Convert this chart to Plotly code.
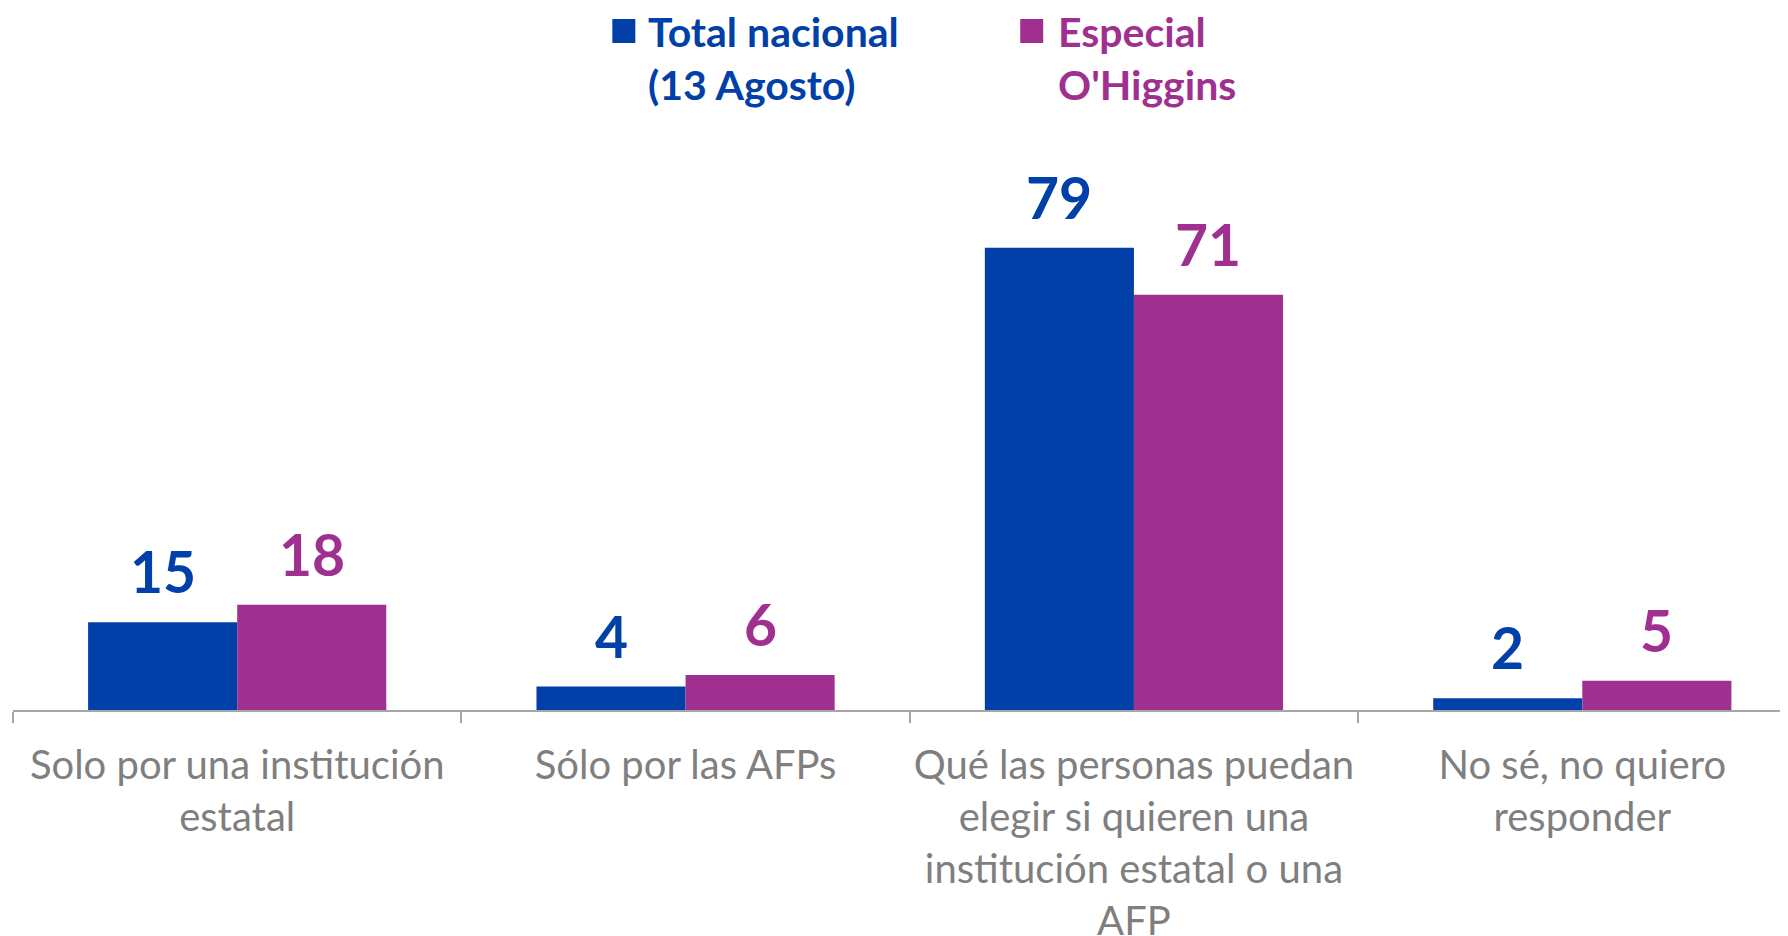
import plotly.graph_objects as go

categories = [
    "Solo por una institución<br>estatal",
    "Sólo por las AFPs",
    "Qué las personas puedan<br>elegir si quieren una<br>institución estatal o una<br>AFP",
    "No sé, no quiero<br>responder",
]
series_names = ["Total nacional<br>(13 Agosto)", "Especial<br>O'Higgins"]
total_nacional = [15, 4, 79, 2]
especial_ohiggins = [18, 6, 71, 5]

BLUE = "#0040A8"
PURPLE = "#A0308F"
GREY = "#7F7F7F"
FONT = "Lato"

# page body has an 8px margin; figure is offset by (8, 8) in the viewport
OFF = 8
W, H = 1788 - OFF, 936 - OFF
ML, MR, MT, MB = 4.5, 0, 122, 226
PW = W - ML - MR
PH = H - MT - MB

fig = go.Figure()
fig.add_trace(go.Bar(x=categories, y=total_nacional, name=series_names[0],
                     marker=dict(color=BLUE, line=dict(width=0)), showlegend=False))
fig.add_trace(go.Bar(x=categories, y=especial_ohiggins, name=series_names[1],
                     marker=dict(color=PURPLE, line=dict(width=0)), showlegend=False))

BAR_PX = 149
annotations = []
for vals, col, sh in [(total_nacional, BLUE, -BAR_PX / 2), (especial_ohiggins, PURPLE, BAR_PX / 2)]:
    for c, v in zip(categories, vals):
        annotations.append(dict(x=c, y=v, xref="x", yref="y", text=f"<b>{v}</b>",
                                showarrow=False, xshift=sh, yshift=15, yanchor="bottom",
                                font=dict(family=FONT, size=57, color=col)))

def px_x(p):
    return (p - OFF - ML) / PW

def px_y(p):
    return (H - MB - (p - OFF)) / PH

# legend (manual)
for (x0, x1, tx, name, col) in [(612, 635, 646, series_names[0], BLUE),
                                (1020, 1043, 1056, series_names[1], PURPLE)]:
    fig.add_shape(type="rect", xref="paper", yref="paper",
                  x0=px_x(x0), x1=px_x(x1), y0=px_y(43), y1=px_y(19),
                  fillcolor=col, line=dict(width=0))
    annotations.append(dict(x=px_x(tx), y=px_y(58), xref="paper", yref="paper",
                            text=f"<b>{name}</b>", showarrow=False, xanchor="left",
                            yanchor="middle", align="left",
                            font=dict(family=FONT, size=41, color=col)))

fig.update_layout(
    width=W, height=H,
    margin=dict(l=ML, r=MR, t=MT, b=MB, pad=0, autoexpand=False),
    paper_bgcolor="white", plot_bgcolor="white",
    barmode="group", bargap=0.335, bargroupgap=0,
    annotations=annotations,
    showlegend=False,
    font=dict(family=FONT),
)
fig.update_xaxes(range=[-0.5, -0.5 + PW / 448.5], showline=True, linecolor="#A6A6A6", linewidth=1.5,
                 ticks="outside", tickson="boundaries", ticklen=11, tickcolor="#A6A6A6",
                 tickwidth=1.5, tickfont=dict(family=FONT, size=40, color=GREY),
                 ticklabelstandoff=19, automargin=False,
                 showgrid=False, zeroline=False, tickangle=0)
fig.update_yaxes(range=[0, PH / 5.85], visible=False, showgrid=False, zeroline=False,
                 automargin=False)

fig.write_html("out.html")
